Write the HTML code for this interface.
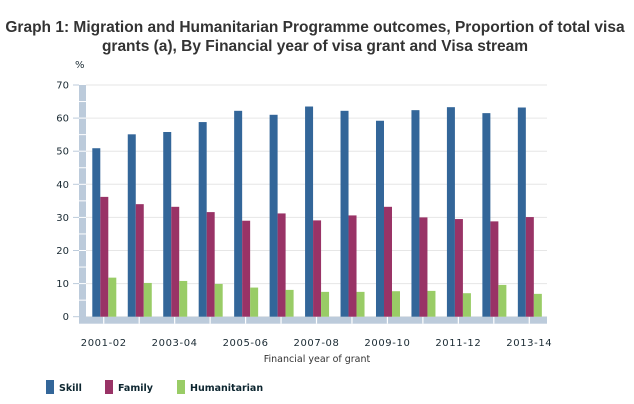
<!DOCTYPE html>
<html><head><meta charset="utf-8"><style>
body{margin:0;background:#fff;}
svg{display:block;}
.t{font-family:"Liberation Sans",Arial,sans-serif;font-weight:bold;font-size:15.5px;fill:#333;}
.k{font-family:"DejaVu Sans",Verdana,sans-serif;font-size:10px;fill:#1a2a33;}
.l{font-family:"DejaVu Sans",Verdana,sans-serif;font-size:9.5px;font-weight:bold;fill:#0d2630;}
</style></head><body>
<svg id="c" width="634" height="404">
<text class="t" x="315" y="32" text-anchor="middle">Graph 1: Migration and Humanitarian Programme outcomes, Proportion of total visa</text>
<text class="t" x="315" y="51" text-anchor="middle">grants (a), By Financial year of visa grant and Visa stream</text>
<text class="k" x="75" y="68">%</text>
<g id="plot"></g>
<text class="k" x="317" y="362" text-anchor="middle" style="font-size:9.5px;fill:#333">Financial year of grant</text>
<g>
<rect x="46" y="380" width="8" height="14" fill="#336699"/>
<text class="l" x="59" y="391">Skill</text>
<rect x="105" y="380" width="8" height="14" fill="#993366"/>
<text class="l" x="118" y="391">Family</text>
<rect x="177" y="380" width="8" height="14" fill="#99cc66"/>
<text class="l" x="190" y="391">Humanitarian</text>
</g>
</svg>
<script>
const categories=["2001-02","2002-03","2003-04","2004-05","2005-06","2006-07","2007-08","2008-09","2009-10","2010-11","2011-12","2012-13","2013-14"];
const skill=[50.9,55.1,55.8,58.8,62.2,61.0,63.5,62.2,59.2,62.4,63.3,61.5,63.2];
const family=[36.2,34.0,33.2,31.6,29.0,31.2,29.1,30.6,33.2,30.0,29.5,28.8,30.1];
const humanitarian=[11.8,10.2,10.8,9.9,8.8,8.1,7.5,7.5,7.7,7.8,7.1,9.6,6.9];
const yTicks=[0,10,20,30,40,50,60,70];
const NS="http://www.w3.org/2000/svg";
const g=document.getElementById('plot');
const x0=86,x1=547,y0=316.7,y70=85;
const y=v=>y0-(v/70)*(y0-y70);
const gw=(x1-x0)/categories.length;
const gx=i=>x0+i*gw;
function mk(t,a){const e=document.createElementNS(NS,t);for(const k in a)e.setAttribute(k,a[k]);g.appendChild(e);return e;}
yTicks.forEach(v=>{
  const l=mk('line',{x1:x0,x2:x1,y1:y(v),y2:y(v),stroke:'#e6e6e6','stroke-width':1});
  
  
  const tk=mk('line',{x1:73,x2:79,y1:y(v),y2:y(v),stroke:'#bccbdb','stroke-width':1});
  
  
  const t=mk('text',{x:69,y:y(v)+3.5,'text-anchor':'end',class:'k'});
  t.textContent=v;
  
  
});
const lb=mk('rect',{x:79,y:y70,width:7,height:y0-y70+6,fill:'#bccbdb'});


for(let v=5;v<70;v+=5){const s=mk('line',{x1:79,x2:86,y1:y(v),y2:y(v),stroke:'#fff','stroke-width':1});

}
const bb=mk('rect',{x:79,y:y0,width:x1-79,height:7,fill:'#bccbdb'});


const series=[[skill,'#336699','skill'],[family,'#993366','family'],[humanitarian,'#99cc66','humanitarian']];
categories.forEach((c,i)=>{
  const s=mk('line',{x1:gx(i)+gw/2,x2:gx(i)+gw/2,y1:y0,y2:y0+7,stroke:'#fff','stroke-width':1.2});
  
  
  series.forEach(([arr,col,nm],j)=>{
    const bx=gx(i)+6.3+j*8;
    const r=mk('rect',{x:bx,y:y(arr[i]),width:8,height:y0-y(arr[i]),fill:col});
    
    
  });
  if(i%2===0){
    const t=mk('text',{x:gx(i)+gw/2,y:346,'text-anchor':'middle',class:'k',style:'letter-spacing:0.6px'});
    t.textContent=c;
    
    
  }
});
</script>
</body></html>
